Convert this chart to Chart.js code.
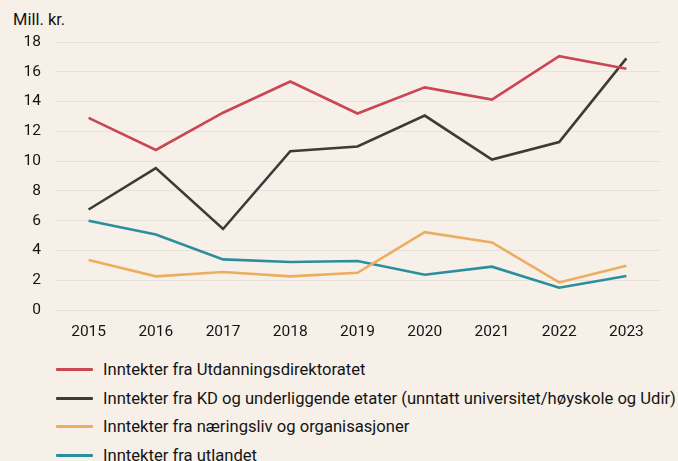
<!DOCTYPE html>
<html>
<head>
<meta charset="utf-8">
<script src="https://cdn.jsdelivr.net/npm/chart.js@4.4.1/dist/chart.umd.min.js"></script>
<style>
  html, body { margin: 0; padding: 0; background: #f6f0e9; }
  body { width: 678px; height: 461px; position: relative; overflow: hidden; font-family: Roboto, sans-serif; color: #141414; }
  .unit { position: absolute; left: 13px; top: 10px; font-size: 16.5px; }
  .wrap { position: absolute; left: 0; top: 0; width: 678px; height: 340px; }
  .legend { position: absolute; left: 56px; top: 355px; margin: 0; padding: 0; list-style: none; }
  .legend li { height: 28.7px; display: flex; align-items: center; font-size: 16.6px; white-space: nowrap; }
  .legend .swatch { width: 37px; height: 3px; margin-right: 10px; border-radius: 1px; }
</style>
</head>
<body>
<div class="unit">Mill. kr.</div>
<div class="wrap"><canvas id="chart"></canvas></div>
<ul class="legend" id="legend"></ul>
<script>
const years = ['2015', '2016', '2017', '2018', '2019', '2020', '2021', '2022', '2023'];

const udir = [12.9, 10.75, 13.25, 15.35, 13.2, 14.95, 14.13, 17.05, 16.2];
const kd = [6.75, 9.53, 5.44, 10.67, 10.98, 13.06, 10.11, 11.28, 16.9];
const naering = [3.36, 2.26, 2.55, 2.26, 2.5, 5.23, 4.54, 1.85, 2.97];
const utland = [5.99, 5.07, 3.4, 3.22, 3.29, 2.37, 2.91, 1.5, 2.28];

const labels = [
  'Inntekter fra Utdanningsdirektoratet',
  'Inntekter fra KD og underliggende etater (unntatt universitet/høyskole og Udir)',
  'Inntekter fra næringsliv og organisasjoner',
  'Inntekter fra utlandet',
];
const colors = ['#cb4653', '#3c3b3a', '#ebae60', '#2b8e9e'];
const series = [udir, kd, naering, utland];

const FONT = { family: 'Roboto, sans-serif', size: 15.5 };

new Chart(document.getElementById('chart'), {
  type: 'line',
  data: {
    labels: years,
    datasets: series.map((data, i) => ({
      label: labels[i],
      data,
      borderColor: colors[i],
      backgroundColor: colors[i],
      borderWidth: 2.6,
      pointRadius: 0,
      tension: 0,
      fill: false,
    })),
  },
  options: {
    responsive: true,
    maintainAspectRatio: false,
    animation: false,
    layout: { padding: { top: 42, right: 18, left: 0, bottom: 0 } },
    plugins: { legend: { display: false }, tooltip: { enabled: false } },
    scales: {
      x: {
        offset: true,
        grid: { display: false },
        border: { display: false },
        ticks: { color: '#141414', font: FONT, padding: 5, maxRotation: 0 },
        afterFit(s) { s.height = 30; },
      },
      y: {
        min: 0,
        max: 18,
        ticks: { stepSize: 2, color: '#141414', font: FONT, padding: 14 },
        grid: { color: '#e5e1db', lineWidth: 1, drawTicks: false },
        border: { display: false },
        afterFit(s) { s.width = 55; },
      },
    },
  },
});

const legend = document.getElementById('legend');
labels.forEach((text, i) => {
  const li = document.createElement('li');
  li.innerHTML = `<span class="swatch" style="background:${colors[i]}"></span>${text}`;
  legend.appendChild(li);
});
</script>
</body>
</html>
